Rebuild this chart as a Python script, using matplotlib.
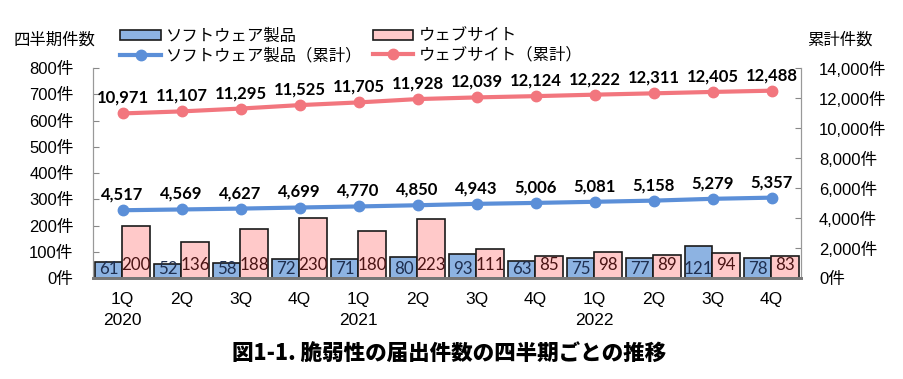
import matplotlib
matplotlib.use('Agg')
import matplotlib.pyplot as plt
import numpy as np

plt.rcParams['font.family'] = ['Liberation Sans', 'Noto Sans CJK JP', 'DejaVu Sans']

quarters = ['1Q', '2Q', '3Q', '4Q', '1Q', '2Q', '3Q', '4Q', '1Q', '2Q', '3Q', '4Q']
years = {0: '2020', 4: '2021', 8: '2022'}
soft = [61, 52, 58, 72, 71, 80, 93, 63, 75, 77, 121, 78]
web = [200, 136, 188, 230, 180, 223, 111, 85, 98, 89, 94, 83]
soft_cum = [4517, 4569, 4627, 4699, 4770, 4850, 4943, 5006, 5081, 5158, 5279, 5357]
web_cum = [10971, 11107, 11295, 11525, 11705, 11928, 12039, 12124, 12222, 12311, 12405, 12488]

blue_bar = '#8db3e2'
pink_bar = '#ffc9c9'
blue_line = '#5b8fd8'
red_line = '#f2767e'
num_font = ['Lato', 'DejaVu Sans']

fig = plt.figure(figsize=(9.04, 3.79), dpi=100)
ax = fig.add_axes([93 / 904, 1 - 278 / 379, 708 / 904, 210 / 379])
ax2 = ax.twinx()

x = np.arange(len(quarters))
w = 0.465
b1 = ax.bar(x - w / 2, soft, w, color=blue_bar, edgecolor='#1a1a1a', linewidth=1.2, zorder=2)
b2 = ax.bar(x + w / 2, web, w, color=pink_bar, edgecolor='#1a1a1a', linewidth=1.2, zorder=2)
for i in range(len(x)):
    ax.text(x[i] - w / 2, 2, str(soft[i]), ha='center', va='bottom', fontsize=12.2,
            color='#1f2f50', family=num_font)
    ax.text(x[i] + w / 2, 18, str(web[i]), ha='center', va='bottom', fontsize=12.2,
            color='#4a1414', family=num_font)

l1, = ax2.plot(x, soft_cum, color=blue_line, lw=3, marker='o', ms=7.5, zorder=3)
l2, = ax2.plot(x, web_cum, color=red_line, lw=3, marker='o', ms=7.5, zorder=3)
for i in range(len(x)):
    ax2.text(x[i], soft_cum[i] + 500, f'{soft_cum[i]:,}', ha='center', va='bottom',
             fontsize=12, fontweight='bold', family=num_font)
    ax2.text(x[i], web_cum[i] + 500, f'{web_cum[i]:,}', ha='center', va='bottom',
             fontsize=12, fontweight='bold', family=num_font)

ax.set_xlim(-0.5, len(x) - 0.5)
ax.set_ylim(0, 800)
ax2.set_ylim(0, 14000)
ax.set_yticks(range(0, 801, 100))
ax.set_yticklabels([f'{v}件' for v in range(0, 801, 100)], fontsize=12)
ax2.set_yticks(range(0, 14001, 2000))
ax2.set_yticklabels([f'{v:,}件' for v in range(0, 14001, 2000)], fontsize=12)
ax.set_xticks(x)
ax.set_xticklabels(quarters, fontsize=12.5)
ax.tick_params(axis='x', length=0, pad=10)
ax.tick_params(axis='y', direction='in', length=4, color='#888888', pad=14)
ax2.tick_params(axis='y', direction='in', length=4, color='#888888', pad=13)
for a in (ax, ax2):
    a.spines['top'].set_visible(False)
    a.spines['left'].set_color('#999999')
    a.spines['right'].set_color('#999999')
    a.spines['bottom'].set_color('#777777')
    a.spines['bottom'].set_linewidth(2)
ax.patch.set_visible(False)

for i, yr in years.items():
    ax.text(x[i], -0.165, yr, transform=ax.get_xaxis_transform(), ha='center', va='top', fontsize=12.5)

fig.text(54 / 904, 1 - 40 / 379, '四半期件数', ha='center', va='center', fontsize=11.8)
fig.text(840 / 904, 1 - 40 / 379, '累計件数', ha='center', va='center', fontsize=11.8)

leg = fig.legend([b1, l1, b2, l2],
                 ['ソフトウェア製品', 'ソフトウェア製品（累計）', 'ウェブサイト', 'ウェブサイト（累計）'],
                 ncol=2, loc='upper left', bbox_to_anchor=(117 / 904, 1 - 25 / 379), frameon=False,
                 fontsize=11.8, handlelength=2.5, handleheight=0.55, labelspacing=0.22,
                 columnspacing=0.6, handletextpad=0.3, borderpad=0.2, borderaxespad=0)

fig.text(0.497, 1 - 354 / 379, '図1-1. 脆弱性の届出件数の四半期ごとの推移', ha='center', va='center',
         fontsize=15.5, fontweight='heavy', family=['Noto Sans CJK JP', 'DejaVu Sans'])

fig.savefig('out.png', dpi=100)
